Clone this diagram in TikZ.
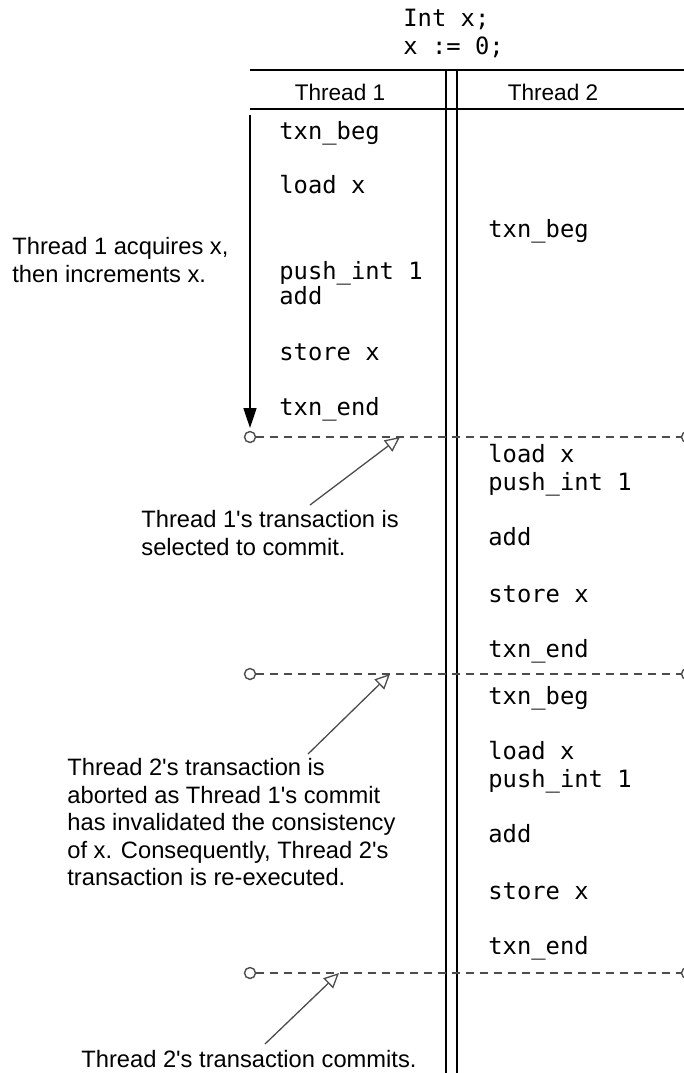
\documentclass[tikz,border=0pt]{standalone}
\usepackage{fontspec}
\setmainfont{Liberation Sans}
\setmonofont{DejaVu Sans Mono}
\usetikzlibrary{arrows.meta}

\begin{document}
\begin{tikzpicture}[x=0.5pt,y=-0.5pt]
	\tikzset{code/.style={anchor=base west,inner sep=0pt,font=\fontsize{11.9pt}{14pt}\ttfamily}}
	\tikzset{note/.style={anchor=north west,inner sep=0pt,align=left,font=\fontsize{11.85pt}{13.75pt}\selectfont}}
	\tikzset{head/.style={anchor=base,inner sep=0pt,font=\fontsize{11.3pt}{13pt}\selectfont}}
	\tikzset{knob/.style={circle,draw=black!70,fill=white,line width=0.7pt,inner sep=0pt,minimum size=5.5pt}}
	\tikzset{commit/.style={draw=black!70,line width=0.8pt,dash pattern=on 4pt off 3pt}}
	\tikzset{pointer/.style={draw=black!70,line width=0.65pt,-{Triangle[open,length=7.5pt,width=7pt]}}}

	\useasboundingbox (0,0) rectangle (684,1073);

	% shared variable
	\node[code] (decl) at (403,26) {Int x;};
	\node[code] (init) at (403,54) {x := 0;};

	% table head and the two thread columns
	\coordinate (tl) at (250,70);  \coordinate (tr) at (690,70);
	\coordinate (bl) at (250,109); \coordinate (br) at (690,109);
	\coordinate (s1) at (446,70);  \coordinate (s1b) at (446,1080);
	\coordinate (s2) at (457,70);  \coordinate (s2b) at (457,1080);
	\draw[line width=0.75pt] (tl) -- (tr);
	\draw[line width=0.75pt] (bl) -- (br);
	\draw[line width=0.75pt] (s1) -- (s1b);
	\draw[line width=0.75pt] (s2) -- (s2b);
	\node[head] (th1) at (340,100) {Thread 1};
	\node[head] (th2) at (553,100) {Thread 2};

	% thread 1
	\node[code] (t1beg) at (279,139) {txn\_beg};
	\node[code] (t1load) at (279,193) {load x};
	\node[code] (t1push) at (279,279) {push\_int 1};
	\node[code] (t1add) at (279,304) {add};
	\node[code] (t1store) at (279,360) {store x};
	\node[code] (t1end) at (279,415) {txn\_end};

	% thread 2, first run
	\node[code] (t2beg) at (488,237) {txn\_beg};
	\node[code] (t2load) at (488,462) {load x};
	\node[code] (t2push) at (488,490) {push\_int 1};
	\node[code] (t2add) at (488,545) {add};
	\node[code] (t2store) at (488,602) {store x};
	\node[code] (t2end) at (488,657) {txn\_end};

	% thread 2, re-executed
	\node[code] (r2beg) at (488,704) {txn\_beg};
	\node[code] (r2load) at (488,759) {load x};
	\node[code] (r2push) at (488,787) {push\_int 1};
	\node[code] (r2add) at (488,842) {add};
	\node[code] (r2store) at (488,899) {store x};
	\node[code] (r2end) at (488,954) {txn\_end};

	% commit points
	\node[knob] (c1l) at (250,437) {};
	\node[knob] (c1r) at (687,437) {};
	\node[knob] (c2l) at (250,674) {};
	\node[knob] (c2r) at (687,674) {};
	\node[knob] (c3l) at (250,973) {};
	\node[knob] (c3r) at (687,973) {};
	\draw[commit] (c1l) -- (c1r);
	\draw[commit] (c2l) -- (c2r);
	\draw[commit] (c3l) -- (c3r);

	\coordinate (acq) at (250,115);
	\coordinate (acqend) at (250,428);
	\draw[line width=0.75pt,-{Triangle[length=10pt,width=6.5pt]}] (acq) -- (acqend);

	% notes
	\node[note] (n1) at (12,237) {Thread 1 acquires x,\\then increments x.};
	\node[note] (n2) at (141,510) {Thread 1\textquotesingle s transaction is\\selected to commit.};
	\node[note] (n3) at (67,758) {Thread 2\textquotesingle s transaction is\\aborted as Thread 1\textquotesingle s commit\\has invalidated the consistency\\of x. Consequently, Thread 2\textquotesingle s\\transaction is re-executed.};
	\node[note] (n4) at (81,1050) {Thread 2\textquotesingle s transaction commits.};

	\coordinate (p1) at (310,505); \coordinate (q1) at (400,437);
	\coordinate (p2) at (308,754); \coordinate (q2) at (390,674);
	\coordinate (p3) at (265,1044); \coordinate (q3) at (339,973);
	\draw[pointer] (p1) -- (q1);
	\draw[pointer] (p2) -- (q2);
	\draw[pointer] (p3) -- (q3);
\end{tikzpicture}
\end{document}
